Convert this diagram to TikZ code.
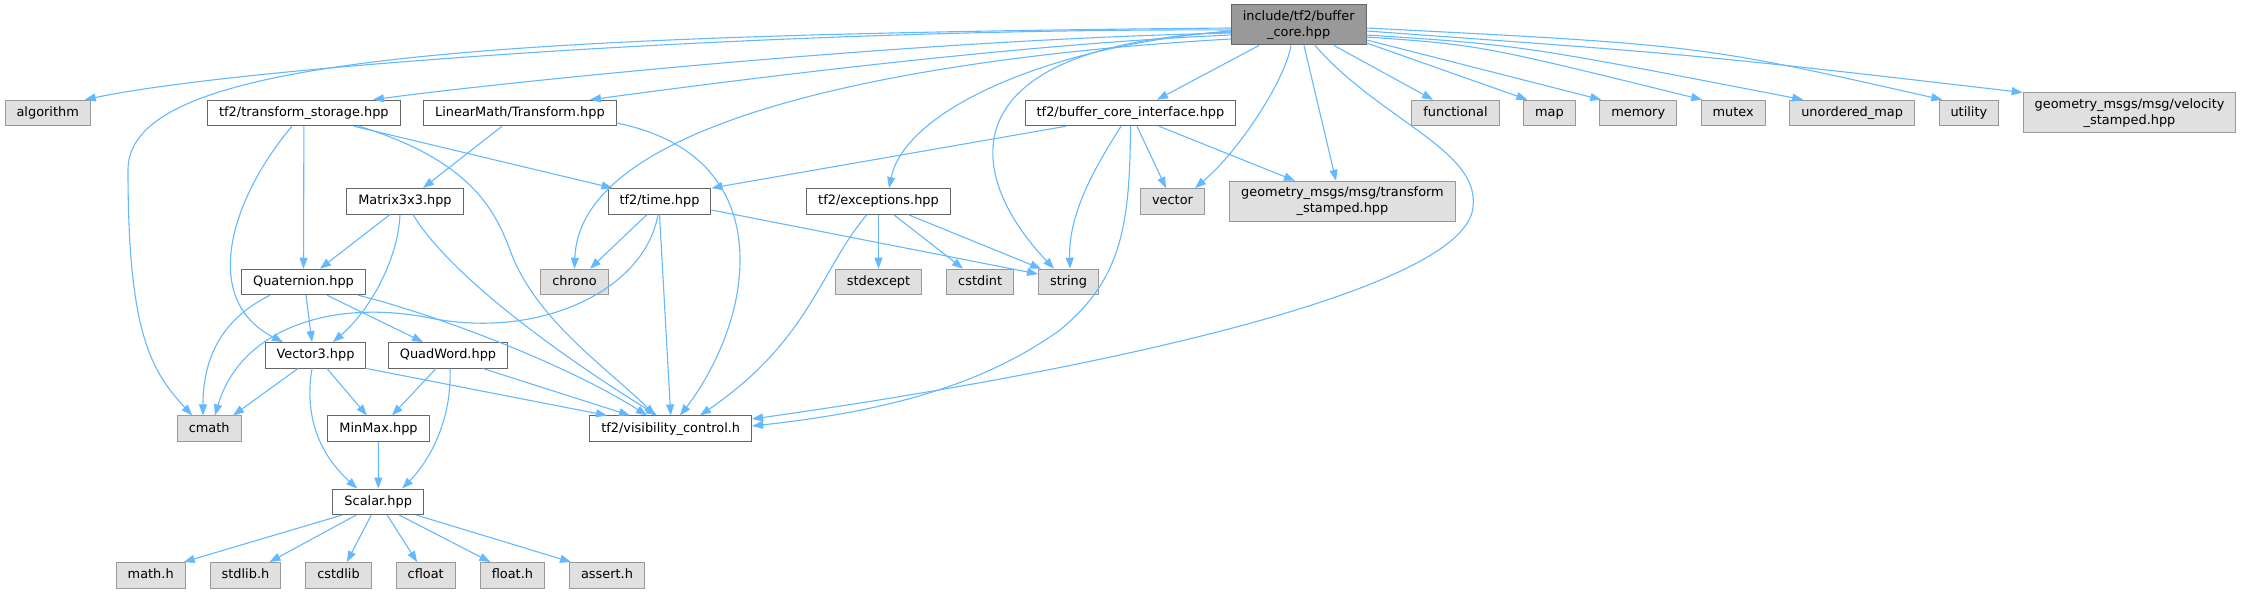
\documentclass[tikz,border=0pt]{standalone}
\usepackage{fontspec}
\setmainfont{DejaVu Sans}
\usepackage{xcolor}
\usepackage{tikz}
\usetikzlibrary{arrows.meta, positioning}

\definecolor{edgeblue}{HTML}{63B8FF}
\definecolor{boxborder}{HTML}{666666}
\definecolor{sysborder}{HTML}{999999}
\definecolor{sysfill}{HTML}{E0E0E0}
\definecolor{rootfill}{HTML}{999999}
\newcommand{\dfont}{\fontsize{12.9pt}{15.7pt}\selectfont}

\begin{document}
\begin{tikzpicture}[
    x=1pt, y=-1pt,
    box/.style={draw=boxborder, fill=white, rectangle, line width=1pt, inner xsep=11.5pt, inner ysep=2pt, minimum height=25.5pt, text height=9.8pt, text depth=3pt, align=center, font=\dfont},
    sysbox/.style={box, draw=sysborder, fill=sysfill},
    rootbox/.style={box, fill=rootfill},
    twoline/.style={text height=25.5pt, text depth=3pt, minimum height=40pt},
    arrow/.style={-{Triangle[length=11pt, width=8pt]}, color=edgeblue, line width=1.1pt}
]
    \useasboundingbox (0,0) rectangle (2241,593);

    % Root
    \node[rootbox, twoline] (core) at (1298.7,25) {include/tf2/buffer\\\_core.hpp};

    % First level
    \node[sysbox] (algorithm) at (47.7,113) {algorithm};
    \node[box] (storage) at (303.9,113) {tf2/transform\_storage.hpp};
    \node[box] (ltransform) at (519.9,113) {LinearMath/Transform.hpp};
    \node[box] (bci) at (1130.5,113) {tf2/buffer\_core\_interface.hpp};
    \node[sysbox] (functional) at (1455.5,113) {functional};
    \node[sysbox, right=23.5pt of functional] (map) {map};
    \node[sysbox, right=23.5pt of map] (memory) {memory};
    \node[sysbox, right=23.5pt of memory] (mutex) {mutex};
    \node[sysbox, right=23.5pt of mutex] (umap) {unordered\_map};
    \node[sysbox, right=23.5pt of umap] (utility) {utility};
    \node[sysbox, twoline, right=23.5pt of utility] (velocity) {geometry\_msgs/msg/velocity\\\_stamped.hpp};

    % Second level
    \node[box] (matrix) at (405,201.3) {Matrix3x3.hpp};
    \node[box] (time) at (659.5,201.3) {tf2/time.hpp};
    \node[box] (exceptions) at (878.5,201.3) {tf2/exceptions.hpp};
    \node[sysbox] (vector) at (1172.5,201.3) {vector};
    \node[sysbox, twoline] (tstamped) at (1342.5,201.3) {geometry\_msgs/msg/transform\\\_stamped.hpp};

    % Third level
    \node[box] (quaternion) at (303.5,282) {Quaternion.hpp};
    \node[sysbox] (chrono) at (574.5,282) {chrono};
    \node[sysbox] (stdexcept) at (878.5,282) {stdexcept};
    \node[sysbox, right=24pt of stdexcept] (cstdint) {cstdint};
    \node[sysbox, right=24pt of cstdint] (string) {string};

    % Lower levels
    \node[box] (vector3) at (315.5,355.3) {Vector3.hpp};
    \node[box] (quadword) at (448,355.3) {QuadWord.hpp};
    \node[sysbox] (cmath) at (209.2,428.7) {cmath};
    \node[box] (minmax) at (378.5,428.7) {MinMax.hpp};
    \node[box] (visibility) at (670.7,428.7) {tf2/visibility\_control.h};
    \node[box] (scalar) at (378.2,501.8) {Scalar.hpp};

    % C headers (bottom row)
    \node[sysbox] (mathh) at (150.7,575.3) {math.h};
    \node[sysbox, right=24pt of mathh] (stdlibh) {stdlib.h};
    \node[sysbox, right=24pt of stdlibh] (cstdlib) {cstdlib};
    \node[sysbox, right=24pt of cstdlib] (cfloat) {cfloat};
    \node[sysbox, right=24pt of cfloat] (floath) {float.h};
    \node[sysbox, right=24pt of floath] (asserth) {assert.h};

    % Arrows from the root, going left
    \draw[arrow] ([yshift=-5pt]core.west) .. controls (800,28) and (250,65) .. ([xshift=37pt]algorithm.north);
    \draw[arrow] ([yshift=-3pt]core.west) .. controls (450,35) and (128,60) .. (128,170) .. controls (128,330) and (150,370) .. ([xshift=-17pt]cmath.north);
    \draw[arrow] ([yshift=-8pt]core.west) .. controls (900,40) and (480,85) .. ([xshift=69pt]storage.north);
    \draw[arrow] ([yshift=-10pt]core.west) .. controls (1000,45) and (700,85) .. ([xshift=70pt]ltransform.north);
    \draw[arrow] ([yshift=-14pt]core.west) .. controls (950,55) and (580,110) .. (chrono.north);
    \draw[arrow] ([yshift=-6pt]core.west) .. controls (1050,45) and (905,110) .. ([xshift=10.5pt]exceptions.north);
    \draw[arrow] ([yshift=-7pt]core.west) .. controls (950,45) and (960,170) .. ([xshift=-14.5pt]string.north);

    % Arrows from the root, going down
    \draw[arrow] ([xshift=-39.7pt]core.south) -- ([xshift=26.5pt]bci.north);
    \draw[arrow] ([xshift=-7.7pt]core.south) .. controls (1285,80) and (1240,150) .. ([xshift=22.5pt]vector.north);
    \draw[arrow] ([xshift=5.3pt]core.south) -- ([xshift=-6.5pt]tstamped.north);
    \draw[arrow] ([xshift=16.3pt]core.south) .. controls (1380,120) and (1480,150) .. (1473,207) .. controls (1466,290) and (1100,370) .. ([yshift=9.7pt]visibility.east);
    \draw[arrow] ([xshift=35.3pt]core.south) -- ([xshift=-22.5pt]functional.north);

    % Arrows from the root, going right
    \draw[arrow] ([yshift=-18pt]core.east) -- ([xshift=-22pt]map.north);
    \draw[arrow] ([yshift=-15pt]core.east) -- ([xshift=-37pt]memory.north);
    \draw[arrow] ([yshift=-12pt]core.east) .. controls (1480,45) .. ([xshift=-31pt]mutex.north);
    \draw[arrow] ([yshift=-10pt]core.east) .. controls (1520,45) .. ([xshift=-49pt]umap.north);
    \draw[arrow] ([yshift=-3pt]core.east) .. controls (1700,45) .. ([xshift=-26.5pt]utility.north);
    \draw[arrow] ([yshift=-6pt]core.east) .. controls (1700,55) .. (velocity.north west);

    % buffer_core_interface
    \draw[arrow] ([xshift=-64.5pt]bci.south) -- (time.north east);
    \draw[arrow] ([xshift=-9.5pt]bci.south) .. controls (1100,160) and (1068,210) .. ([xshift=1.5pt]string.north);
    \draw[arrow] (bci.south) .. controls (1130,230) and (1120,280) .. (1060,330) .. controls (990,380) and (900,410) .. ([yshift=2.7pt]visibility.east);
    \draw[arrow] ([xshift=6.5pt]bci.south) -- ([xshift=-6.5pt]vector.north);
    \draw[arrow] ([xshift=28.5pt]bci.south) -- ([xshift=-47.5pt]tstamped.north);

    % LinearMath/Transform
    \draw[arrow] ([xshift=-17.9pt]ltransform.south) -- ([xshift=18pt]matrix.north);
    \draw[arrow] ([yshift=-10pt]ltransform.east) .. controls (700,140) and (740,190) .. (740,260) .. controls (740,330) and (700,390) .. ([xshift=9.3pt]visibility.north);

    % transform_storage
    \draw[arrow] (storage.south) -- (quaternion.north);
    \draw[arrow] ([xshift=-12pt]storage.south) .. controls (230,200) and (200,300) .. ([xshift=-32.5pt]vector3.north);
    \draw[arrow] ([xshift=50pt]storage.south) -- ([xshift=5pt]time.north west);
    \draw[arrow] ([xshift=55pt]storage.south) .. controls (470,160) and (495,210) .. (510,250) .. controls (535,320) and (610,370) .. ([xshift=-15.7pt]visibility.north);

    % Matrix3x3
    \draw[arrow] ([xshift=-15pt]matrix.south) -- ([xshift=16.5pt]quaternion.north);
    \draw[arrow] ([xshift=-5pt]matrix.south) .. controls (398,260) and (370,310) .. ([xshift=17.5pt]vector3.north);
    \draw[arrow] ([xshift=8pt]matrix.south) .. controls (440,260) and (520,330) .. ([xshift=-13.7pt]visibility.north);

    % tf2/time
    \draw[arrow] ([xshift=-12.5pt]time.south) -- ([xshift=15.5pt]chrono.north);
    \draw[arrow] ([yshift=-8.7pt]time.east) -- ([yshift=8pt]string.west);
    \draw[arrow] (time.south) -- (visibility.north);
    \draw[arrow] ([xshift=-1.5pt]time.south) .. controls (645,290) and (540,340) .. (430,318) .. controls (330,298) and (240,330) .. ([xshift=5.8pt]cmath.north);

    % tf2/exceptions
    \draw[arrow] (exceptions.south) -- (stdexcept.north);
    \draw[arrow] ([xshift=15pt]exceptions.south) -- ([xshift=-17pt]cstdint.north);
    \draw[arrow] ([xshift=29.5pt]exceptions.south) -- ([xshift=3pt]string.north west);
    \draw[arrow] ([xshift=-11.5pt]exceptions.south) .. controls (820,270) and (810,340) .. ([xshift=29.3pt]visibility.north);

    % Quaternion
    \draw[arrow] ([xshift=-33.5pt]quaternion.south) .. controls (220,320) and (203,360) .. ([xshift=-6.2pt]cmath.north);
    \draw[arrow] ([xshift=2.5pt]quaternion.south) -- ([xshift=-3.5pt]vector3.north);
    \draw[arrow] ([xshift=23.5pt]quaternion.south) -- ([xshift=-25pt]quadword.north);
    \draw[arrow] ([xshift=54.5pt]quaternion.south) .. controls (420,310) and (560,360) .. ([xshift=-23.7pt]visibility.north);

    % Vector3
    \draw[arrow] ([xshift=-17.5pt]vector3.south) -- ([xshift=23.8pt]cmath.north);
    \draw[arrow] ([xshift=11.5pt]vector3.south) -- ([xshift=-11.5pt]minmax.north);
    \draw[arrow] ([xshift=-3.5pt]vector3.south) .. controls (305,410) and (315,450) .. ([xshift=-21pt]scalar.north);
    \draw[arrow] (vector3.south east) -- ([xshift=-63.7pt]visibility.north);

    % QuadWord
    \draw[arrow] ([xshift=-12pt]quadword.south) -- ([xshift=13.5pt]minmax.north);
    \draw[arrow] ([xshift=2pt]quadword.south) .. controls (452,420) and (430,460) .. ([xshift=24pt]scalar.north);
    \draw[arrow] ([xshift=35pt]quadword.south) -- ([xshift=-40.7pt]visibility.north);

    % MinMax
    \draw[arrow] (minmax) -- (scalar);

    % Scalar
    \draw[arrow] ([xshift=-36pt]scalar.south) -- ([xshift=-2pt]mathh.north east);
    \draw[arrow] ([xshift=-22pt]scalar.south) -- ([xshift=24pt]stdlibh.north);
    \draw[arrow] ([xshift=-7pt]scalar.south) -- ([xshift=8.4pt]cstdlib.north);
    \draw[arrow] ([xshift=9pt]scalar.south) -- ([xshift=-8.6pt]cfloat.north);
    \draw[arrow] ([xshift=21pt]scalar.south) -- ([xshift=-22pt]floath.north);
    \draw[arrow] ([xshift=38pt]scalar.south) -- ([xshift=2pt]asserth.north west);

\end{tikzpicture}
\end{document}
